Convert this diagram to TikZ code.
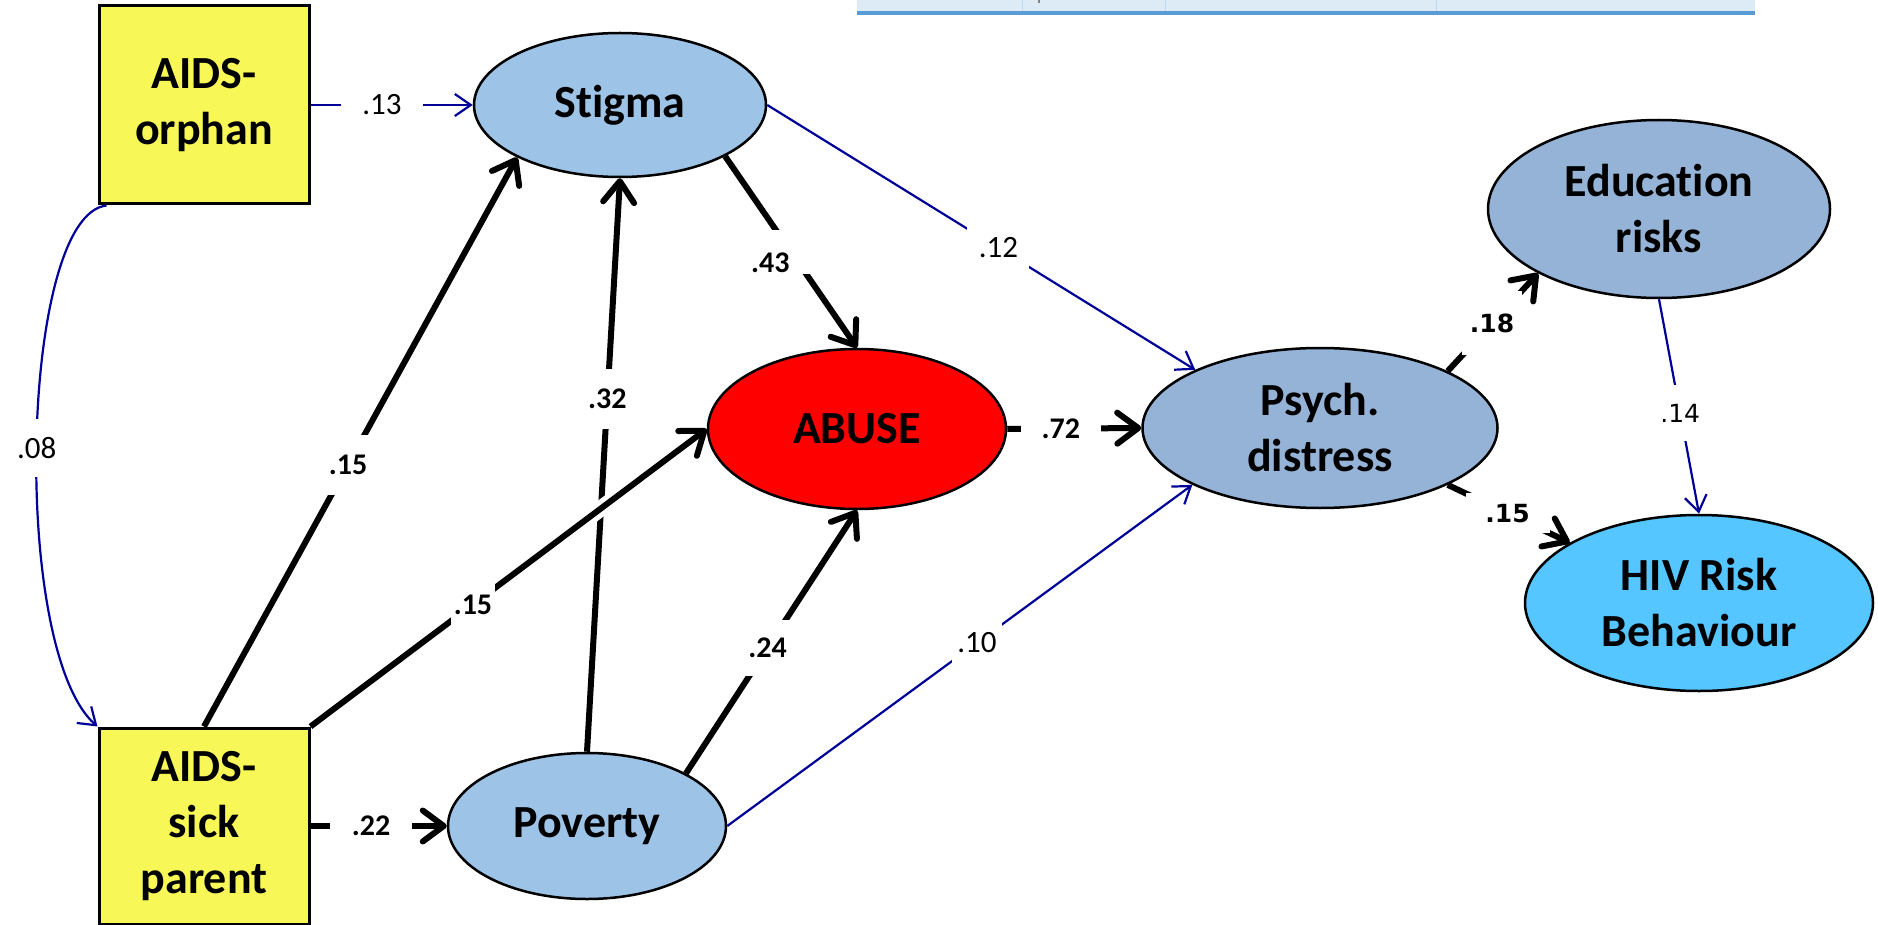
\documentclass[tikz,border=0pt]{standalone}
\usepackage{fontspec}
\setmainfont{Carlito}[Ligatures=NoCommon]
\newfontfamily\dvs{DejaVu Sans}
\usetikzlibrary{arrows.meta,shapes.geometric}
\definecolor{boxyellow}{HTML}{F7F758}
\definecolor{lightblue}{HTML}{9DC3E6}
\definecolor{greyblue}{HTML}{95B3D7}
\definecolor{abusered}{HTML}{FF0000}
\definecolor{hivblue}{HTML}{55C6FF}
\definecolor{navyline}{HTML}{000099}
\definecolor{barfill}{HTML}{DDEBF7}
\definecolor{barline}{HTML}{5B9BD5}
\definecolor{barsep}{HTML}{BDD7EE}
\tikzset{
  nodefont/.style={font=\fontsize{46}{56}\selectfont\bfseries},
  factor/.style={draw=black, line width=3pt, fill=boxyellow, minimum width=210pt, minimum height=198pt, align=center, nodefont, inner sep=0pt},
  latent/.style={ellipse, draw=black, line width=2.5pt, align=center, nodefont, inner sep=0pt},
  strong/.style={line width=6pt, -{Straight Barb[length=21pt,width=31pt,round]}},
  weak/.style={line width=2.2pt, draw=navyline, -{Straight Barb[length=16pt,width=22pt]}},
  blab/.style={fill=white, inner sep=0pt, font=\fontsize{30}{30}\selectfont\bfseries},
  wlab/.style={fill=white, inner sep=0pt, font=\fontsize{31}{31}\selectfont},
  dlab/.style={fill=white, inner sep=0pt, font=\dvs\fontsize{25}{25}\selectfont},
  dblab/.style={fill=white, inner sep=0pt, font=\dvs\bfseries\fontsize{25}{25}\selectfont},
}
\begin{document}
\begin{tikzpicture}[x=1pt,y=-1pt]
\useasboundingbox (0,0) rectangle (1878,925);
% top bar fragment
\fill[barfill] (857,0) rectangle (1755,11);
\fill[barline] (857,11) rectangle (1755,15);
\foreach \sx in {1022,1165,1436} \draw[barsep, line width=1pt] (\sx,0) -- (\sx,11);
\draw[gray, line width=1.5pt] (1039,0) -- (1039,3);
% nodes
\node[factor] (orphan) at (204,105) {AIDS-\\orphan};
\node[factor, minimum height=196pt] (sick) at (204,826) {AIDS-\\sick\\parent};
\node[latent, fill=lightblue, minimum width=292pt, minimum height=144pt] (stigma) at (620,105) {Stigma};
\node[latent, fill=lightblue, minimum width=278pt, minimum height=146pt] (poverty) at (587,826) {Poverty};
\node[latent, fill=abusered, minimum width=298pt, minimum height=160pt] (abuse) at (857,429) {ABUSE};
\node[latent, fill=greyblue, minimum width=355pt, minimum height=160pt] (psych) at (1320,428) {Psych.\\distress};
\node[latent, fill=greyblue, minimum width=342pt, minimum height=178pt] (edu) at (1659,209) {Education\\risks};
\node[latent, fill=hivblue, minimum width=348pt, minimum height=176pt] (hiv) at (1699,603) {HIV Risk\\Behaviour};
% thin blue paths
\draw[weak] (orphan.east) -- node[wlab, pos=.44, minimum width=82pt, minimum height=30pt] (l13) {.13} (stigma.west);
\draw[weak] ([xshift=9pt]orphan.south west) .. controls (20,215) and (10,650) .. (sick.north west)
  node[wlab, pos=.51, minimum width=40pt, minimum height=58pt] (l08) {.08};
\draw[weak] (stigma.east) -- node[wlab, pos=.54, minimum width=62pt, minimum height=46pt] (l12) {.12} (psych.155);
\draw[weak] (poverty.east) -- node[wlab, pos=.537, minimum width=50pt, minimum height=56pt] (l10) {.10} (psych.204);
\draw[weak] (edu.south) -- node[dlab, pos=.53, minimum width=44pt, minimum height=56pt] (l14) {.14} (hiv.north);
% bold paths
\draw[strong] (sick.north) -- node[blab, pos=.46, minimum width=44pt, minimum height=60pt] (l15a) {.15} (stigma.207);
\draw[strong] (poverty.north) -- node[blab, pos=.615, minimum width=44pt, minimum height=60pt] (l32) {.32} (stigma.south);
\path (sick.north east) -- coordinate[pos=.68] (xa) coordinate[pos=.78] (xb) (abuse.west);
\draw[white, line width=16pt] (xa) -- (xb);
\draw[strong] (sick.north east) -- node[blab, pos=.41, minimum width=44pt, minimum height=58pt] (l15b) {.15} (abuse.west);
\draw[strong] (poverty.28) -- node[blab, pos=.477, minimum width=44pt, minimum height=56pt] (l24) {.24} (abuse.south);
\draw[strong] (stigma.-26) -- node[blab, pos=.5, text width=80pt, align=left, text height=42pt, text depth=2pt] (l43) {.43} (abuse.north);
\draw[strong] (sick.east) -- node[blab, pos=.445, minimum width=82pt, minimum height=30pt] (l22) {.22} (poverty.west);
\draw[strong] (abuse.east) -- node[blab, pos=.4, minimum width=80pt, minimum height=30pt] (l72) {.72} (psych.west);
\draw[strong] (psych.24) -- node[dblab, pos=.49, minimum width=60pt, minimum height=64pt] (l18) {.18} (edu.208);
\draw[strong] (psych.-24) -- node[dblab, pos=.49, minimum width=84pt, minimum height=40pt] (l15c) {.15} (hiv.155);
\end{tikzpicture}
\end{document}
